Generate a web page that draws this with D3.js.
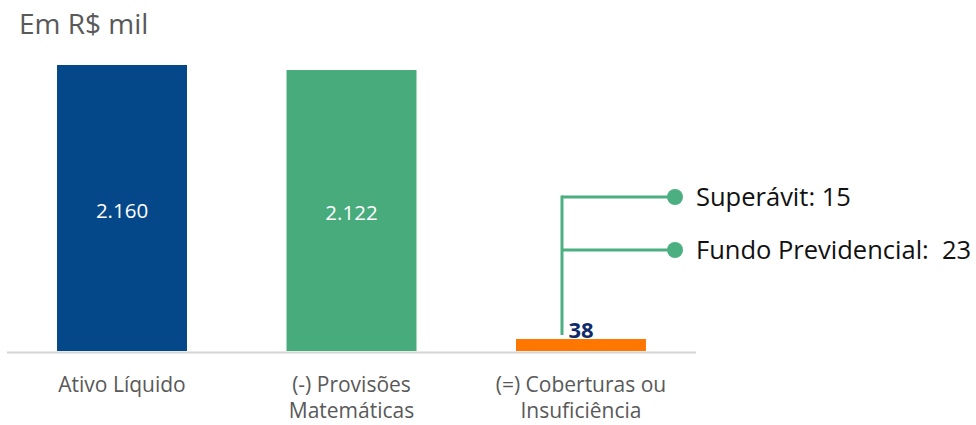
<!DOCTYPE html>
<html>
<head>
<meta charset="utf-8">
<script src="https://cdn.jsdelivr.net/npm/d3@7"></script>
<style>
body {
  margin: 0;
  background-color: white;
}
text {
  font-family: "Open Sans", "Noto Sans", sans-serif;
}
</style>
</head>
<body>
<svg id="chart"></svg>
</body>
<script>
// values in R$ mil
var categories = [["Ativo Líquido"], ["(-) Provisões", "Matemáticas"], ["(=) Coberturas ou", "Insuficiência"]];
var values = [2160, 2122, 38];
var barLabels = ["2.160", "2.122", "38"];
var colors = ["#04488a", "#47ab7c", "#ff7700"];

var breakdownNames = ["Superávit", "Fundo Previdencial"];
var breakdownValues = [15, 23];
var breakdownLabels = ["Superávit: 15", "Fundo Previdencial:  23"];

const width = 976;
const height = 425;
var svg = d3.select("#chart").attr("width", width).attr("height", height);

var x = d3.scaleBand().domain(d3.range(values.length))
          .range([7, 696]).paddingInner(0.4336).paddingOuter(0.218);
var y = d3.scaleLinear().domain([0, 2160]).range([351, 65]);

// title
svg.append("text")
   .attr("x", 19).attr("y", 34)
   .attr("font-size", "28px").attr("fill", "#595959")
   .text("Em R$ mil");

// baseline
svg.append("line")
   .attr("x1", 7).attr("x2", 696)
   .attr("y1", 352.5).attr("y2", 352.5)
   .attr("stroke", "#d4d4d4").attr("stroke-width", 2);

function barTop(d) {
  // small bar gets a minimum visible height like the original
  return Math.min(y(d), y(0) - 12);
}

svg.selectAll("rect.bar")
   .data(values)
   .enter()
   .append("rect")
   .attr("class", "bar")
   .attr("x", (d, i) => x(i))
   .attr("width", x.bandwidth())
   .attr("y", (d) => barTop(d))
   .attr("height", (d) => y(0) - barTop(d))
   .attr("fill", (d, i) => colors[i]);

// value labels: big bars inside, small bar on top
svg.selectAll("text.val")
   .data(values)
   .enter()
   .append("text")
   .attr("class", "val")
   .attr("x", (d, i) => x(i) + x.bandwidth() / 2)
   .attr("y", (d) => d > 500 ? (y(d) + y(0)) / 2 + 9.5 : barTop(d) - 1.5)
   .attr("text-anchor", "middle")
   .attr("font-size", (d) => d > 500 ? "20.5px" : "22px")
   .attr("font-weight", (d) => d > 500 ? "normal" : "bold")
   .attr("fill", (d) => d > 500 ? "white" : "#0e2a6b")
   .text((d, i) => barLabels[i]);

// category labels
svg.selectAll("text.cat")
   .data(categories)
   .enter()
   .append("text")
   .attr("class", "cat")
   .attr("text-anchor", "middle")
   .attr("font-size", "21px")
   .attr("fill", "#595959")
   .each(function(lines, i) {
     d3.select(this).selectAll("tspan")
       .data(lines)
       .enter()
       .append("tspan")
       .attr("x", x(i) + x.bandwidth() / 2)
       .attr("y", (l, j) => 392 + j * 26)
       .text((l) => l);
   });

// breakdown of the last bar
var stemX = x(2) + 46;
var dotX = 675;
var rowY = [197, 250];
var green = "#4caf82";

svg.append("line")
   .attr("x1", stemX).attr("x2", stemX)
   .attr("y1", rowY[0] - 1.5).attr("y2", barTop(values[2]) - 4)
   .attr("stroke", green).attr("stroke-width", 3);

var rows = svg.selectAll("g.row")
   .data(breakdownNames)
   .enter()
   .append("g")
   .attr("class", "row");

rows.append("line")
    .attr("x1", stemX).attr("x2", dotX)
    .attr("y1", (d, i) => rowY[i]).attr("y2", (d, i) => rowY[i])
    .attr("stroke", green).attr("stroke-width", 3);

rows.append("circle")
    .attr("cx", dotX).attr("cy", (d, i) => rowY[i])
    .attr("r", 8).attr("fill", green);

rows.append("text")
    .attr("x", 696).attr("y", (d, i) => rowY[i] + 9)
    .attr("font-size", "25.5px").attr("fill", "#111")
    .attr("xml:space", "preserve")
    .style("white-space", "pre")
    .text((d, i) => breakdownLabels[i]);
</script>
</html>
